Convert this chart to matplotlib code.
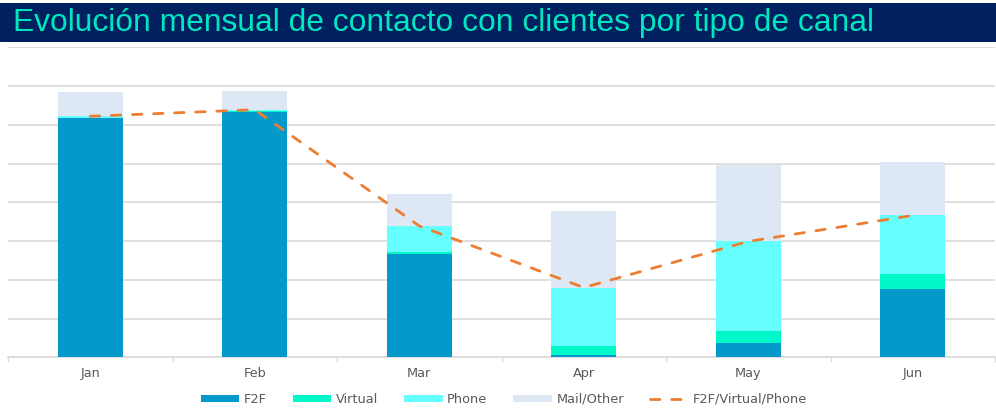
import matplotlib
matplotlib.use("Agg")
import matplotlib.pyplot as plt
from matplotlib.patches import Rectangle
import numpy as np

title = "Evolución mensual de contacto con clientes por tipo de canal"
months = ["Jan", "Feb", "Mar", "Apr", "May", "Jun"]
f2f = [6.17, 6.34, 2.67, 0.07, 0.36, 1.77]
virtual = [0.01, 0.01, 0.05, 0.22, 0.32, 0.37]
phone = [0.04, 0.04, 0.67, 1.51, 2.31, 1.52]
mail_other = [0.63, 0.48, 0.82, 1.98, 1.98, 1.37]
series_names = ["F2F", "Virtual", "Phone", "Mail/Other", "F2F/Virtual/Phone"]

c_f2f = "#0399cb"
c_virtual = "#00f7c8"
c_phone = "#66ffff"
c_mail = "#dde8f4"
c_line = "#ed7d31"
txt_gray = "#595959"
grid_gray = "#dcdcdc"

fig = plt.figure(figsize=(9.96, 4.12), dpi=100)

# Title bar
fig.patches.append(Rectangle((0, 1 - 42 / 412), 1, 39 / 412, transform=fig.transFigure,
                             facecolor="#002060", edgecolor="none", zorder=0))
fig.text(13 / 996, 1 - 22.5 / 412, title, fontsize=22.9, color="#00e6bf",
         family="Liberation Sans", va="center", ha="left")

ax = fig.add_axes([8 / 996, 1 - 357.3 / 412, 987 / 996, 310 / 412])
x = np.arange(len(months))
w = 0.395

b1 = ax.bar(x, f2f, w, color=c_f2f, label=series_names[0], zorder=3)
bot = np.array(f2f)
b2 = ax.bar(x, virtual, w, bottom=bot, color=c_virtual, label=series_names[1], zorder=3)
bot = bot + np.array(virtual)
b3 = ax.bar(x, phone, w, bottom=bot, color=c_phone, label=series_names[2], zorder=3)
bot = bot + np.array(phone)
line_vals = bot.copy()
b4 = ax.bar(x, mail_other, w, bottom=bot, color=c_mail, label=series_names[3], zorder=3)

ln, = ax.plot(x, line_vals, color=c_line, lw=2.0, dashes=(3.4, 4.2),
              dash_capstyle="round", label=series_names[4], zorder=4)

ax.set_xlim(-0.5, len(months) - 0.5)
ax.set_ylim(0, 8)
ax.set_yticks(np.arange(0, 9, 1))
ax.yaxis.grid(True, color=grid_gray, lw=1.3, zorder=0)
ax.set_yticklabels([])
ax.tick_params(axis="y", length=0)
for s in ["top", "right", "left"]:
    ax.spines[s].set_visible(False)
ax.spines["bottom"].set_color(grid_gray)
ax.spines["bottom"].set_linewidth(1.3)

ax.set_xticks(x)
ax.set_xticklabels(months, fontsize=9.3, color=txt_gray, family="DejaVu Sans")
ax.tick_params(axis="x", which="major", length=0, pad=7.0)
ax.set_xticks(np.arange(-0.5, len(months) + 0.5, 1), minor=True)
ax.tick_params(axis="x", which="minor", length=3.5, width=1.0, color=grid_gray, direction="out")

leg = fig.legend(handles=[b1, b2, b3, b4, ln], labels=series_names,
                 loc="center", bbox_to_anchor=(0.506, 1 - 399.5 / 412), ncol=5,
                 frameon=False, prop={"family": "DejaVu Sans", "size": 9.3},
                 handlelength=3.0, handleheight=0.4, handletextpad=0.35,
                 columnspacing=2.0, labelcolor=txt_gray)

fig.savefig("out.png", dpi=100)
